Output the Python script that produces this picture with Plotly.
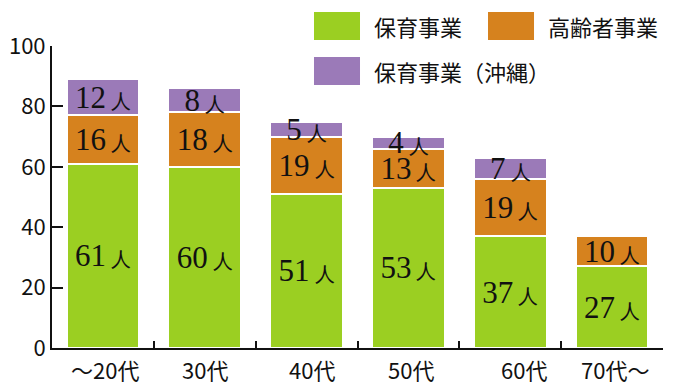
import plotly.graph_objects as go

categories = ["～20代", "30代", "40代", "50代", "60代", "70代～"]
series_names = ["保育事業", "高齢者事業", "保育事業（沖縄）"]
hoiku = [61, 60, 51, 53, 37, 27]
koreisha = [16, 18, 19, 13, 19, 10]
okinawa = [12, 8, 5, 4, 7, 0]
y_ticks = [0, 20, 40, 60, 80, 100]

colors = ["#9BCF22", "#D6821E", "#9B7AB8"]
label_shift = [2, 0, 5, 3, 14, 3]

SANS = "Noto Sans CJK JP, Noto Sans, sans-serif"
SERIF = "Liberation Serif, DejaVu Serif, serif"

def labels(vals):
    return [f"{v}<span style='font-size:20px'> 人</span>" if v > 0 else "" for v in vals]

fig = go.Figure()
for name, vals, col in zip(series_names, [hoiku, koreisha, okinawa], colors):
    fig.add_trace(go.Bar(
        x=categories, y=vals, name=name,
        marker=dict(color=col, line=dict(color="white", width=2)),
        text=labels(vals), textposition="inside", insidetextanchor="middle",
        textangle=0, constraintext="none",
        insidetextfont=dict(family=SERIF, size=31, color="#111111"),
        showlegend=False, hoverinfo="skip",
    ))

annotations = []
for c, s in zip(categories, label_shift):
    annotations.append(dict(x=c, y=0, xref="x", yref="paper", yanchor="top",
                            yshift=-3, xshift=s, text=c, showarrow=False,
                            font=dict(family=SANS, size=22, color="#111111")))

shapes = []
legend_pos = [(0.4288, 1.1126), (0.7136, 1.1126), (0.4288, 0.9636)]
for (lx, ly), name, col in zip(legend_pos, series_names, colors):
    shapes.append(dict(type="rect", xref="paper", yref="paper",
                       x0=lx, x1=lx + 0.0753, y0=ly - 0.0927, y1=ly,
                       fillcolor=col, line=dict(width=0)))
    annotations.append(dict(x=lx + 0.0949, y=ly - 0.0463, xref="paper", yref="paper",
                            xanchor="left", yanchor="middle", text=name, showarrow=False,
                            font=dict(family=SANS, size=22, color="#111111")))

fig.update_layout(
    barmode="stack", bargap=0.286,
    width=679, height=392,
    margin=dict(l=52, r=16, t=46, b=44, autoexpand=False),
    plot_bgcolor="white", paper_bgcolor="white",
    annotations=annotations, shapes=shapes,
    font=dict(family=SANS, size=22, color="#111111"),
)
fig.update_xaxes(
    type="category", showticklabels=False, tickson="boundaries",
    ticks="inside", ticklen=7, tickwidth=2, tickcolor="#111111",
    showline=True, linecolor="#111111", linewidth=2, showgrid=False,
    layer="below traces", automargin=False,
)
fig.update_yaxes(
    range=[0, 100], tickvals=y_ticks, ticks="inside", ticklen=11, tickwidth=2,
    tickcolor="#111111", showline=True, linecolor="#111111", linewidth=2,
    showgrid=False, zeroline=False, layer="below traces", automargin=False,
    tickfont=dict(family=SANS, size=22, color="#111111"),
)
fig.write_html("out.html", config={"displayModeBar": False},
               post_script="document.body.style.margin='0';document.body.style.overflow='hidden';")
